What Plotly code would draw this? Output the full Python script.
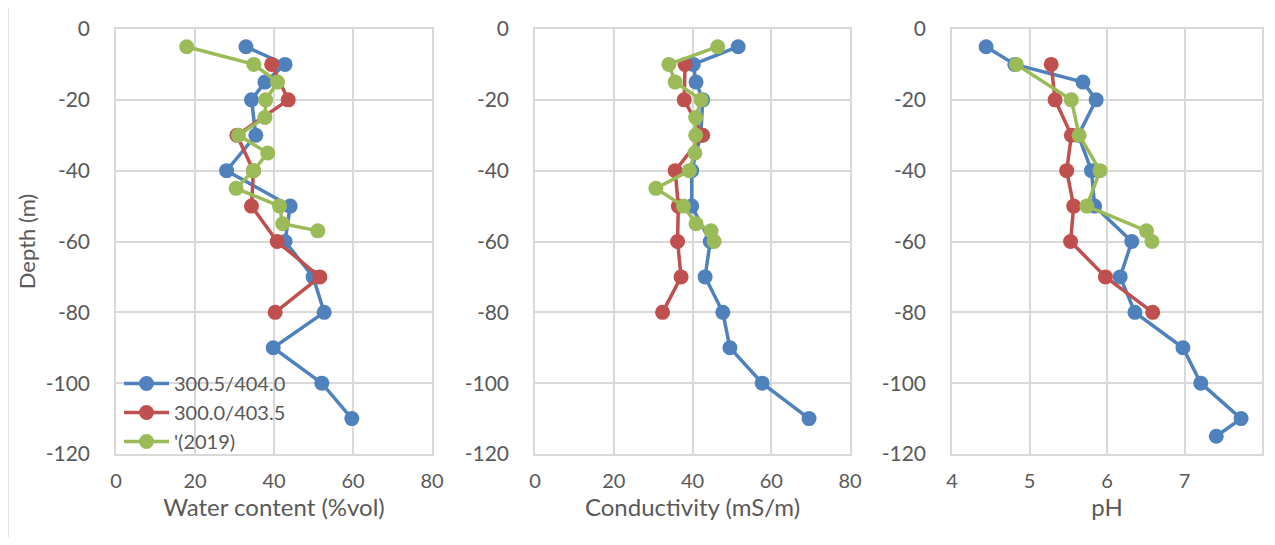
import plotly.graph_objects as go

# ---------------- data ----------------
names = ["300.5/404.0", "300.0/403.5", "'(2019)"]
colors = ["#4F81BD", "#C0504D", "#9BBB59"]

# Panel 1: Water content (%vol)
wc_blue_depth = [-5, -10, -15, -20, -30, -40, -50, -60, -70, -80, -90, -100, -110]
wc_blue_val = [32.9, 42.8, 37.7, 34.3, 35.4, 28.0, 44.1, 42.8, 49.9, 52.7, 39.8, 52.1, 59.7]
wc_red_depth = [-10, -20, -30, -40, -50, -60, -70, -80]
wc_red_val = [39.4, 43.6, 30.6, 34.8, 34.3, 40.8, 51.6, 40.3]
wc_green_depth = [-5, -10, -15, -20, -25, -30, -35, -40, -45, -50, -55, -57]
wc_green_val = [17.9, 34.9, 40.9, 37.9, 37.7, 31.0, 38.4, 34.8, 30.4, 41.4, 42.2, 51.1]

# Panel 2: Conductivity (mS/m)
ec_blue_depth = [-5, -10, -15, -20, -30, -40, -50, -60, -70, -80, -90, -100, -110]
ec_blue_val = [51.6, 40.2, 40.9, 42.6, 42.1, 39.8, 39.8, 44.5, 43.2, 47.7, 49.5, 57.7, 69.6]
ec_red_depth = [-10, -20, -30, -40, -50, -60, -70, -80]
ec_red_val = [38.1, 37.9, 42.6, 35.6, 36.4, 36.2, 37.1, 32.4]
ec_green_depth = [-5, -10, -15, -20, -25, -30, -35, -40, -45, -50, -55, -57, -60]
ec_green_val = [46.4, 34.0, 35.6, 42.2, 40.8, 40.8, 40.6, 39.2, 30.7, 37.7, 40.9, 44.7, 45.5]

# Panel 3: pH
ph_blue_depth = [-5, -10, -15, -20, -30, -40, -50, -60, -70, -80, -90, -100, -110, -115]
ph_blue_val = [4.44, 4.81, 5.69, 5.86, 5.63, 5.80, 5.84, 6.32, 6.17, 6.36, 6.98, 7.21, 7.73, 7.41]
ph_red_depth = [-10, -20, -30, -40, -50, -60, -70, -80]
ph_red_val = [5.28, 5.33, 5.54, 5.48, 5.57, 5.53, 5.98, 6.59]
ph_green_depth = [-10, -20, -30, -40, -50, -57, -60]
ph_green_val = [4.83, 5.54, 5.64, 5.91, 5.74, 6.51, 6.58]

x_titles = ["Water content (%vol)", "Conductivity (mS/m)", "pH"]
x_ranges = [[0, 80], [0, 80], [4, 8]]
x_ticks = [[0, 20, 40, 60, 80], [0, 20, 40, 60, 80], [4, 5, 6, 7, 8]]
y_ticks = [0, -20, -40, -60, -80, -100, -120]
y_ticktext = ["0", "-20", "-40", "-60", "-80", "-100", "-120"]
y_title = "Depth (m)"

panels = [
    [(wc_blue_val, wc_blue_depth), (wc_red_val, wc_red_depth), (wc_green_val, wc_green_depth)],
    [(ec_blue_val, ec_blue_depth), (ec_red_val, ec_red_depth), (ec_green_val, ec_green_depth)],
    [(ph_blue_val, ph_blue_depth), (ph_red_val, ph_red_depth), (ph_green_val, ph_green_depth)],
]

# page is rendered with an 8px body margin -> figure coords = page coords - 8
OFF = 8
W, H = 1275 - 2 * OFF, 545 - 2 * OFF
x_dom_px = [(116 - OFF, 432 - OFF), (535 - OFF, 850 - OFF), (952 - OFF, 1262 - OFF)]
y_dom_px = (29 - OFF, 454 - OFF)

FONT = "Lato"
TXT = "#595959"
GRID = "#D9D9D9"

fig = go.Figure()
for p, series in enumerate(panels):
    sfx = "" if p == 0 else str(p + 1)
    for s, (xv, yv) in enumerate(series):
        fig.add_trace(go.Scatter(
            x=xv, y=yv, mode="lines+markers", name=names[s],
            line=dict(color=colors[s], width=3.5),
            marker=dict(color=colors[s], size=15),
            xaxis="x" + sfx, yaxis="y" + sfx,
            showlegend=(p == 0),
        ))

layout = dict(
    width=W, height=H,
    margin=dict(l=0, r=0, t=0, b=0, pad=0),
    paper_bgcolor="white", plot_bgcolor="white",
    font=dict(family=FONT, size=20, color=TXT),
    legend=dict(x=(119 - OFF) / W, y=1 - (364 - OFF) / H, xanchor="left", yanchor="top",
                bgcolor="rgba(0,0,0,0)", font=dict(size=20, color=TXT),
                tracegroupgap=0, itemwidth=45),
    showlegend=True,
)
y0 = 1 - y_dom_px[1] / H
y1 = 1 - y_dom_px[0] / H
for p in range(3):
    sfx = "" if p == 0 else str(p + 1)
    xd = [x_dom_px[p][0] / W, x_dom_px[p][1] / W]
    layout["xaxis" + sfx] = dict(
        domain=xd, range=x_ranges[p], tickvals=x_ticks[p],
        anchor="y" + sfx, showgrid=True, gridcolor=GRID, gridwidth=1.5,
        showline=True, linecolor=GRID, linewidth=1.5, mirror=True,
        zeroline=False, ticks="", ticklabelstandoff=8, automargin=False,
        tickfont=dict(size=20, color=TXT),
        title=dict(text=x_titles[p], font=dict(size=24, color=TXT), standoff=0),
    )
    layout["yaxis" + sfx] = dict(
        domain=[y0, y1], range=[-120, 0], tickvals=y_ticks, ticktext=y_ticktext,
        anchor="x" + sfx, showgrid=True, gridcolor=GRID, gridwidth=1.5,
        showline=True, linecolor=GRID, linewidth=1.5, mirror=True,
        zeroline=False, ticks="", ticklabelstandoff=20, automargin=False,
        tickfont=dict(size=21, color=TXT),
    )
layout["yaxis"]["title"] = dict(text=y_title, font=dict(size=22, color=TXT), standoff=4)

fig.update_layout(**layout)
# thin outer frame line on the left edge, as in the reference
fig.add_shape(type="line", xref="paper", yref="paper", x0=0, x1=0,
              y0=0, y1=1, line=dict(color=GRID, width=1.5))

fig.write_html("out.html")
